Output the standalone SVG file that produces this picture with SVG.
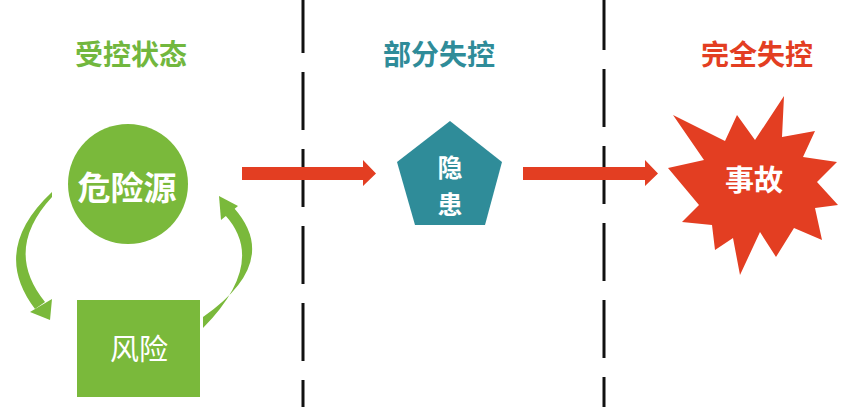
<svg xmlns="http://www.w3.org/2000/svg" width="846" height="407" viewBox="0 0 846 407">
  <style>
    text { font-family: "Noto Sans CJK SC", "Noto Sans", sans-serif; text-anchor: middle; }
    .title { font-size: 28px; font-weight: bold; }
    .lbl { fill: #ffffff; font-weight: bold; }
    .dash { stroke: #111111; stroke-width: 3; stroke-dasharray: 58 19; fill: none; }
    .red { fill: #E33E22; }
    .green { fill: #7AB93B; }
  </style>
  <rect width="846" height="407" fill="#ffffff"/>

  <g id="dividers">
    <line class="dash" x1="303" y1="0" x2="303" y2="407" stroke-dashoffset="5"/>
    <line class="dash" x1="604" y1="0" x2="604" y2="407" stroke-dashoffset="8"/>
  </g>

  <g id="titles">
    <text class="title" x="131" y="65" fill="#72B73E">受控状态</text>
    <text class="title" x="439" y="65" fill="#2F8C99">部分失控</text>
    <text class="title" x="757" y="65" fill="#E33E22">完全失控</text>
  </g>

  <g id="connectors">
    <polygon class="red" points="242,167 363,167 363,160 376,173.5 363,186 363,180 242,180"/>
    <polygon class="red" points="523,167 645,167 645,160 658,173.5 645,186 645,180 523,180"/>
    <path class="green" d="M52,192 Q -10,250 35,309 L 45,302 Q 3,250 52,197 Z"/>
    <polygon class="green" points="30,312 52,299 50,320"/>
    <path class="green" d="M203,317 Q 282,262 234,208 L 225,215 Q 268,262 203,328 Z"/>
    <polygon class="green" points="238,206 221,220 219,196"/>
  </g>

  <g id="hazard-source">
    <circle class="green" cx="128" cy="184" r="60"/>
    <text class="lbl" x="127" y="200" font-size="33">危险源</text>
  </g>

  <g id="risk">
    <rect class="green" x="77" y="300" width="123" height="97"/>
    <text x="139" y="360" font-size="29" fill="#ffffff">风险</text>
  </g>

  <g id="hidden-danger">
    <polygon points="450,121 502,162 485,225 415,225 397,162" fill="#2F8C99"/>
    <text class="lbl" x="450" y="177" font-size="25">隐</text>
    <text class="lbl" x="450" y="214" font-size="25">患</text>
  </g>

  <g id="accident">
    <polygon class="red" points="784,96 782,137 815,131 803,157 837,162 817,182 838,205 815,208 822,240 794,228 776,257 760,232 740,275 733,238 715,250 712,225 682,222 699,205 668,168 704,160 673,115 725,141 737,115 755,140"/>
    <text class="lbl" x="754" y="191" font-size="29">事故</text>
  </g>
</svg>
